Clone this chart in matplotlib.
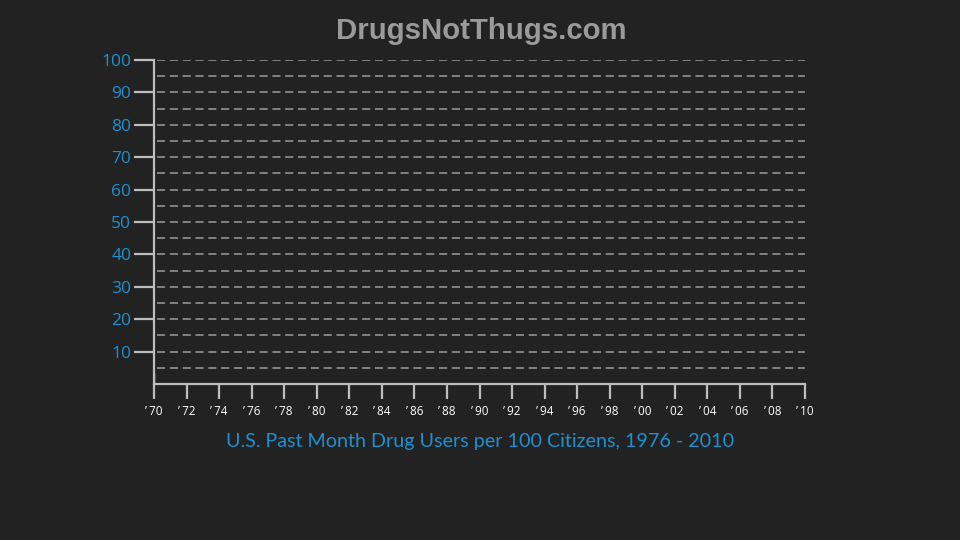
import matplotlib
matplotlib.use("Agg")
import matplotlib.pyplot as plt
import numpy as np

# Data
x_ticks = list(range(1970, 2011, 2))
x_labels = ["\u2019\u2009%02d" % (y % 100) for y in x_ticks]
y_ticks = [10, 20, 30, 40, 50, 60, 70, 80, 90, 100]
grid_levels = list(range(5, 101, 5))
bar_years = [1970]
bar_values = [3.4]

title = "DrugsNotThugs.com"
subtitle = "U.S. Past Month Drug Users per 100 Citizens, 1976 - 2010"

bg = "#222222"
fig = plt.figure(figsize=(9.6, 5.4), dpi=100, facecolor=bg)
ax = fig.add_axes([154/960, 156/540, 651/960, 324/540], facecolor=bg)

ax.set_xlim(1970, 2010)
ax.set_ylim(0, 100)

for g in grid_levels:
    ax.axhline(g, color="#8a8a8a", lw=1.3, ls=(0, (4.5, 2.6)), xmin=0.004, zorder=1)

ax.bar(bar_years, bar_values, width=0.15, align="edge", color="#2d5a30", zorder=2)

for s in ["top", "right"]:
    ax.spines[s].set_visible(False)
for s in ["left", "bottom"]:
    ax.spines[s].set_color("#bdbdbd")
    ax.spines[s].set_linewidth(1.6)

ax.set_yticks(y_ticks)
ax.set_yticklabels([str(v) for v in y_ticks])
ax.set_xticks(x_ticks)
ax.set_xticklabels(x_labels)

ax.tick_params(axis="y", length=14.4, width=1.6, color="#bdbdbd", pad=2,
               labelcolor="#1e90d0", labelsize=12.5)
ax.tick_params(axis="x", length=10.8, width=1.6, color="#bdbdbd", pad=4,
               labelcolor="#ffffff", labelsize=8.5)
for lab in ax.get_yticklabels():
    lab.set_fontfamily(["Open Sans", "DejaVu Sans"])
for lab in ax.get_xticklabels():
    lab.set_fontfamily(["Open Sans", "DejaVu Sans"])

fig.text(481/960, 1 - 31/540, title, ha="center", va="center", color="#9a9a9a",
         fontsize=21.2, fontweight="bold", family=["Liberation Sans", "DejaVu Sans"])
fig.text(480/960, 1 - 441/540, subtitle, ha="center", va="center", color="#1e90d0",
         fontsize=14.2, family=["Lato", "DejaVu Sans"])

fig.savefig("out.png", dpi=100, facecolor=bg)
